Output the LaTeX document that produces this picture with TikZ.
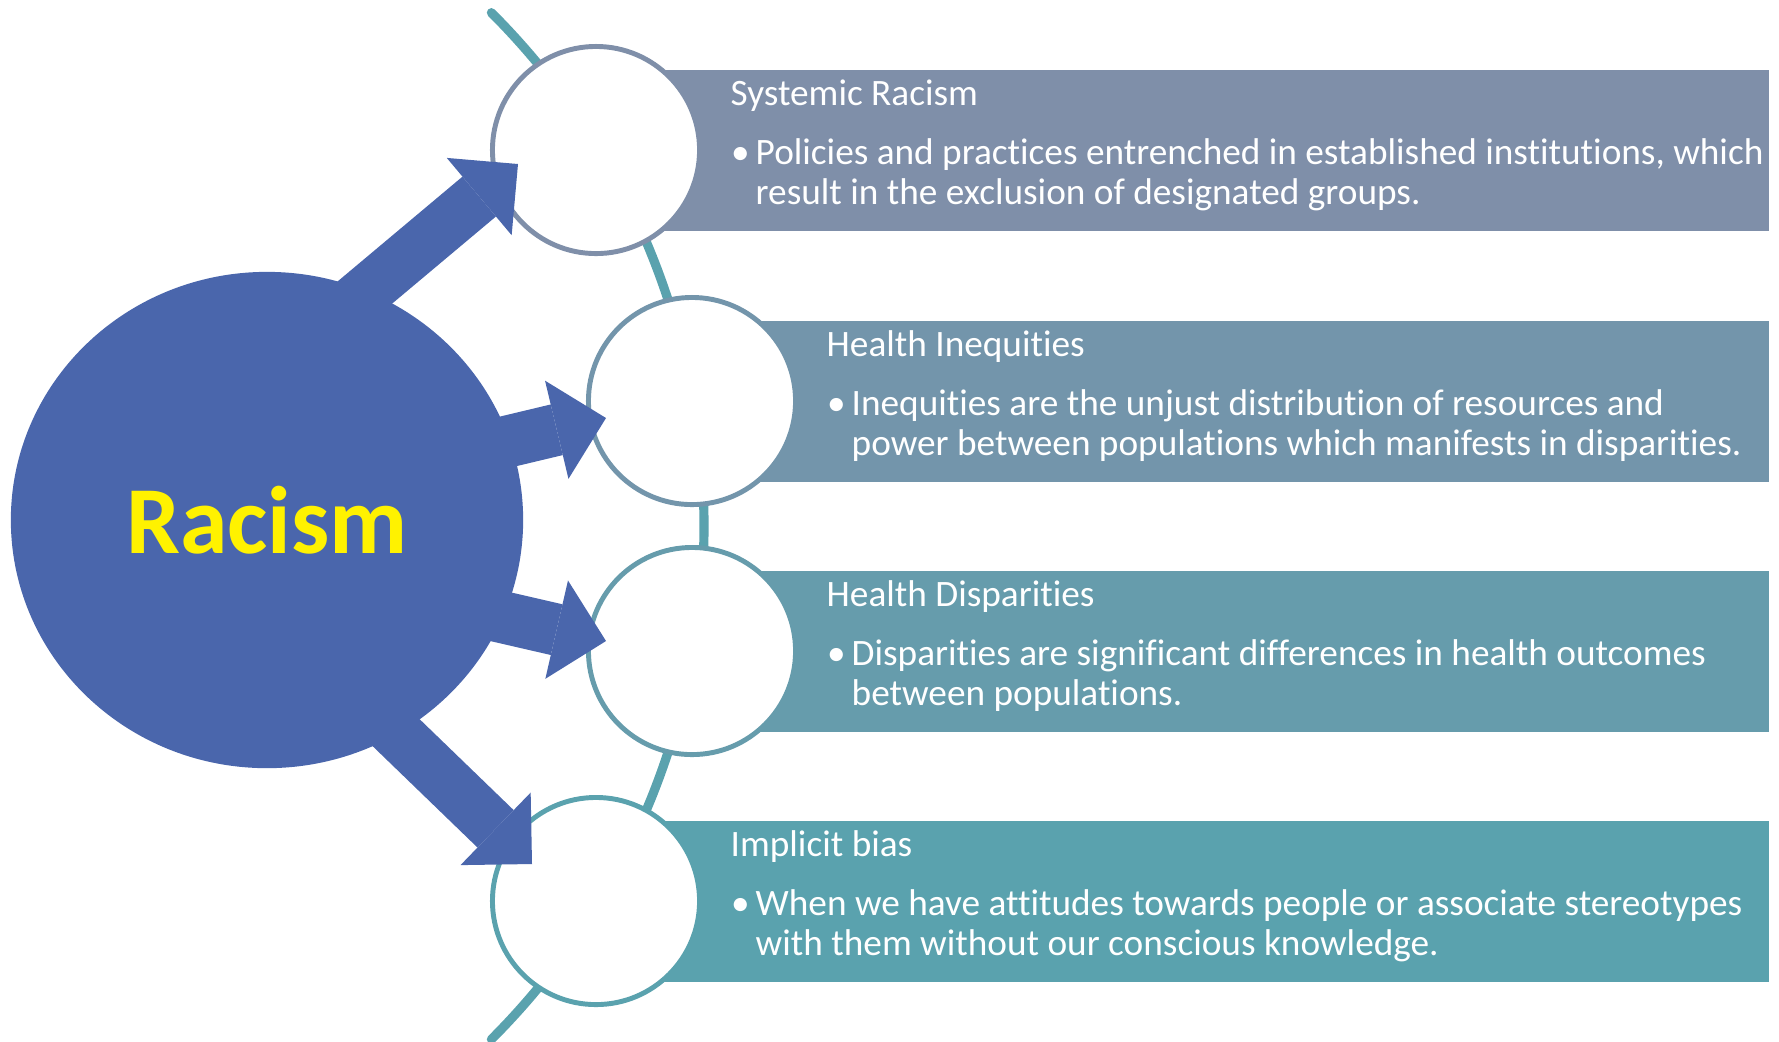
\documentclass[tikz,border=0pt]{standalone}
\usepackage{fontspec}
\setmainfont{Carlito}[Ligatures=NoCommon]
\usepackage{xcolor}
\usepackage{tikz}
\usetikzlibrary{shapes.geometric,arrows.meta,positioning,calc}

\definecolor{racismblue}{HTML}{4A66AC}
\definecolor{bandA}{HTML}{7F8FA9}
\definecolor{bandD}{HTML}{5AA2AE}
\colorlet{bandB}{bandA!67!bandD}
\colorlet{bandC}{bandA!33!bandD}

\begin{document}
\begin{tikzpicture}[x=0.01cm, y=-0.01cm,
  spine/.style={bandD, line width=2.6pt, line cap=round},
  ring/.style={circle, draw=#1, fill=white, line width=1.4pt, minimum size=2.07cm, inner sep=0pt},
  bigarrow/.style={racismblue, line width=14.8pt, -{Triangle[length=14.4pt, width=28.7pt, line width=0pt]}},
  heading/.style={anchor=base west, text=white, font=\fontsize{10.6}{11.3}\selectfont, inner sep=0pt},
  bullettext/.style={heading, align=left}]
\useasboundingbox (0,0) rectangle (1779,1041);

% Spine arc behind the circles
\draw[spine] (-22,526) ++(-45:726) arc[start angle=-45, end angle=45, radius=726];

% Bands, circles and texts
\foreach \i/\cx/\cy/\col/\ttl/\lineA/\lineB in {
  1/596/150/bandA/{Systemic Racism}/{Policies and practices entrenched in established institutions, which}/{result in the exclusion of designated groups.},
  2/692/401/bandB/{Health Inequities}/{Inequities are the unjust distribution of resources and}/{power between populations which manifests in disparities.},
  3/692/651/bandC/{Health Disparities}/{Disparities are significant differences in health outcomes}/{between populations.},
  4/596/901/bandD/{Implicit bias}/{When we have attitudes towards people or associate stereotypes}/{with them without our conscious knowledge.}} {
  \fill[\col] (\cx,\cy-80) rectangle (1769,\cy+81);
  \node[ring=\col] (c\i) at (\cx,\cy) {};
  \node[heading] (t\i) at (\cx+134,\cy-45) {\ttl};
  \node[bullettext] (b\i) at (\cx+159,\cy+54) {\llap{\textbullet\kern1.7pt}\lineA\\\lineB};
}

% Central node
\node[ellipse, fill=racismblue, minimum width=5.12cm, minimum height=4.96cm, inner sep=0pt,
  text=yellow, font=\fontsize{27.3}{32}\selectfont\bfseries] (racism) at (267,520) {Racism};

% Block arrows
\coordinate (from1) at (319,331);  \coordinate (to1) at (518,164);
\coordinate (from2) at (363,476);  \coordinate (to2) at (606,418);
\coordinate (from3) at (363,585);  \coordinate (to3) at (606,641);
\coordinate (from4) at (352,690);  \coordinate (to4) at (532,864);
\foreach \i in {1,...,4}
  \draw[bigarrow] (from\i) -- (to\i);
\end{tikzpicture}
\end{document}
